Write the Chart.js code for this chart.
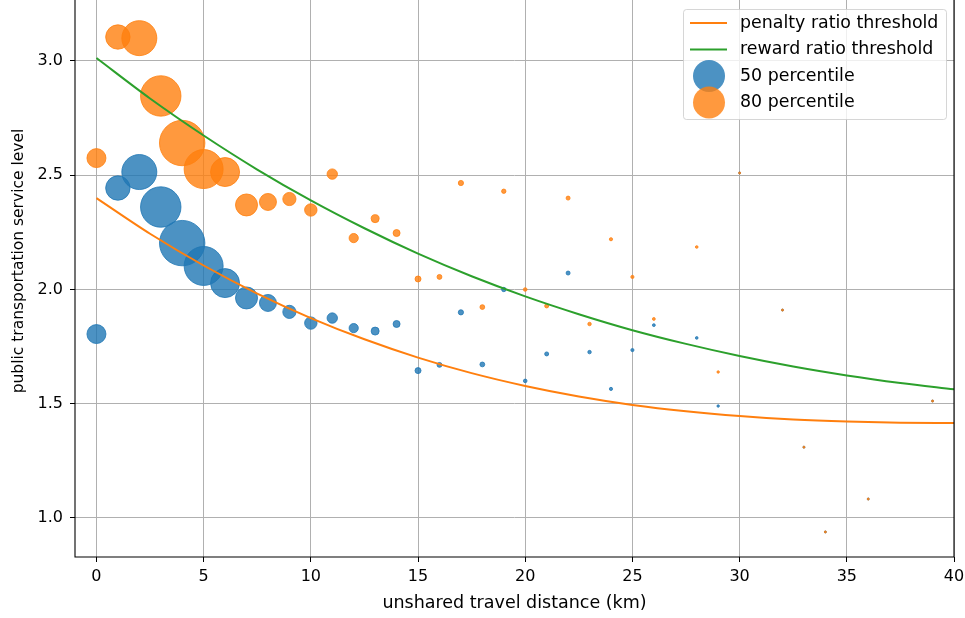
<!DOCTYPE html>
<html>
<head>
<meta charset="utf-8">
<script src="https://cdn.jsdelivr.net/npm/chart.js@4/dist/chart.umd.min.js"></script>
<style>
html,body{margin:0;padding:0;background:#fff;overflow:hidden;width:965px;height:618px;}
#wrap{position:absolute;left:0;top:-35px;width:965px;height:653px;}
</style>
</head>
<body>
<div id="wrap"><canvas id="c" width="965" height="653"></canvas></div>
<script>
// ---- data ----
const distanceKm = [0,1,2,3,4,5,6,7,8,9,10,11,12,13,14,15,16,17,18,19,20,21,22,23,24,25,26,28,29,30,32,33,34,36,39];
const p50Level = [1.805,2.444,2.514,2.361,2.203,2.103,2.028,1.963,1.941,1.902,1.853,1.875,1.831,1.818,1.849,1.645,1.670,1.900,1.672,2.000,1.600,1.718,2.072,1.726,1.565,1.735,1.844,1.788,1.490,2.510,1.910,1.310,0.939,1.083,1.512];
const p80Level = [2.575,3.105,3.100,2.847,2.641,2.527,2.514,2.370,2.383,2.396,2.348,2.505,2.225,2.310,2.247,2.046,2.055,2.466,1.923,2.430,2.000,1.928,2.400,1.849,2.220,2.055,1.871,2.186,1.639,2.510,1.910,1.310,0.939,1.083,1.512];
const sampleCount = [361,595,1225,1632,2061,1521,841,484,289,174,154,108,85,64,49,36,24,27,23,19,13,16,16,12,10,10,8,7,6,4,4,4,4,4,4];
const curveX = [0,2.5,5,7.5,10,12.5,15,17.5,20,22.5,25,27.5,30,32.5,35,37.5,40];
const penaltyThreshold = [2.400,2.244,2.105,1.982,1.875,1.782,1.702,1.634,1.578,1.532,1.495,1.467,1.446,1.431,1.422,1.417,1.416];
const rewardThreshold = [3.013,2.836,2.674,2.525,2.390,2.268,2.157,2.058,1.970,1.892,1.822,1.762,1.709,1.663,1.624,1.591,1.563];
const xTicks = [0,5,10,15,20,25,30,35,40];
const yTicks = [1.0,1.5,2.0,2.5,3.0];

const FONT = 'DejaVu Sans';
const blue = 'rgba(31,119,180,0.8)';
const orange = 'rgba(255,127,14,0.8)';

function bubbles(vals){
  return distanceKm.map((x,i)=>({x:x, y:vals[i], r:0.5*Math.sqrt(sampleCount[i])}));
}
function curve(vals){
  return curveX.map((x,i)=>({x:x, y:vals[i]}));
}

const framePlugin = {
  id:'frame',
  afterDraw(chart){
    const {ctx, chartArea:a} = chart;
    ctx.save();
    ctx.strokeStyle = '#000';
    ctx.lineWidth = 1.1;
    ctx.beginPath();
    ctx.moveTo(a.left, a.top); ctx.lineTo(a.left, a.bottom);
    ctx.lineTo(a.right, a.bottom); ctx.lineTo(a.right, a.top);
    ctx.stroke();
    // legend
    const L = 683, T = 44, W = 263, H = 110;
    ctx.globalAlpha = 0.8;
    ctx.fillStyle = '#fff';
    ctx.strokeStyle = '#cccccc';
    ctx.lineWidth = 1;
    ctx.beginPath();
    if (ctx.roundRect) ctx.roundRect(L+0.5, T+0.5, W, H, 3); else ctx.rect(L+0.5,T+0.5,W,H);
    ctx.fill(); ctx.stroke();
    ctx.globalAlpha = 1;
    const rows = [58, 84.5, 111, 137.5];
    ctx.font = '17.4px "' + FONT + '"';
    ctx.textBaseline = 'middle';
    ctx.textAlign = 'left';
    chart.data.datasets.forEach((ds,i)=>{
      const y = rows[i];
      if (ds.type === 'line'){
        ctx.strokeStyle = ds.borderColor; ctx.lineWidth = 2;
        ctx.beginPath(); ctx.moveTo(690,y); ctx.lineTo(727,y); ctx.stroke();
      } else {
        ctx.fillStyle = ds.backgroundColor;
        ctx.beginPath(); ctx.arc(709,y,16,0,Math.PI*2); ctx.fill();
      }
      ctx.fillStyle = '#000';
      ctx.fillText(ds.label, 740, y);
    });
    ctx.restore();
  }
};

new Chart(document.getElementById('c'), {
  type:'bubble',
  data:{
    datasets:[
      {type:'line', label:'penalty ratio threshold', data:curve(penaltyThreshold), borderColor:'#ff7f0e', borderWidth:2, pointRadius:0, cubicInterpolationMode:'monotone', order:1},
      {type:'line', label:'reward ratio threshold', data:curve(rewardThreshold), borderColor:'#2ca02c', borderWidth:2, pointRadius:0, cubicInterpolationMode:'monotone', order:1},
      {type:'bubble', label:'50 percentile', data:bubbles(p50Level), backgroundColor:blue, borderColor:blue, borderWidth:1, order:3},
      {type:'bubble', label:'80 percentile', data:bubbles(p80Level), backgroundColor:orange, borderColor:orange, borderWidth:1, order:2}
    ]
  },
  options:{
    responsive:false, animation:false, devicePixelRatio:1,
    layout:{autoPadding:false, padding:{left:0,right:11,top:0,bottom:0}},
    plugins:{legend:{display:false}, tooltip:{enabled:false}},
    scales:{
      x:{type:'linear', min:-1, max:40,
        afterBuildTicks:s=>{s.ticks = xTicks.map(v=>({value:v}));},
        afterFit:s=>{s.height = 61; s.paddingLeft = 0; s.paddingRight = 0;},
        grid:{color:'#b0b0b0', lineWidth:1, tickColor:'#000', tickLength:5, drawTicks:true},
        border:{display:false},
        ticks:{font:{family:FONT,size:16}, color:'#000', padding:5, maxRotation:0, autoSkip:false},
        title:{display:true, text:'unshared travel distance (km)', font:{family:FONT,size:17.5}, color:'#000', padding:{top:0,bottom:4}}
      },
      y:{type:'linear', min:0.8293, max:3.4201,
        afterBuildTicks:s=>{s.ticks = yTicks.map(v=>({value:v}));},
        afterFit:s=>{s.width = 75; s.paddingTop = 0; s.paddingBottom = 0;},
        grid:{color:'#b0b0b0', lineWidth:1, tickColor:'#000', tickLength:5, drawTicks:true},
        border:{display:false},
        ticks:{font:{family:FONT,size:16}, color:'#000', padding:7, callback:v=>Number(v).toFixed(1)},
        title:{display:true, text:'public transportation service level', font:{family:FONT,size:15.5}, color:'#000', padding:{top:10,bottom:0}}
      }
    }
  },
  plugins:[framePlugin]
});
</script>
</body>
</html>
